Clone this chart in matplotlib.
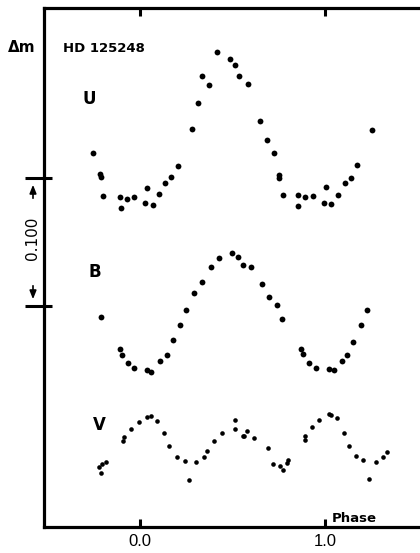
import matplotlib
matplotlib.use("Agg")
import matplotlib.pyplot as plt
import matplotlib.transforms as mtransforms

# ---- data (phase, delta m) ----
u_phase = [-0.249, -0.213, -0.209, -0.197, -0.107, -0.101, -0.069, -0.030, 0.039, 0.030,
           0.074, 0.105, 0.139, 0.168, 0.206, 0.283, 0.314, 0.335, 0.375, 0.419,
           0.488, 0.515, 0.538, 0.585, 0.650, 0.686, 0.724, 0.754, 0.754, 0.775,
           0.854, 0.856, 0.894, 0.937, 1.004, 0.995, 1.034, 1.068, 1.108, 1.139,
           1.174, 1.253]
u_dm = [-0.0193, -0.0031, -0.0010, 0.0138, 0.0146, 0.0237, 0.0166, 0.0151, 0.0076, 0.0198,
        0.0211, 0.0123, 0.0037, -0.0005, -0.0094, -0.0383, -0.0584, -0.0799, -0.0724, -0.0982,
        -0.0927, -0.0883, -0.0797, -0.0732, -0.0445, -0.0297, -0.0193, -0.0023, 0.0002, 0.0135,
        0.0130, 0.0219, 0.0151, 0.0143, 0.0070, 0.0198, 0.0205, 0.0130, 0.0041, 0.0000,
        -0.0099, -0.0377]

b_phase = [-0.209, -0.107, -0.093, -0.062, -0.028, 0.039, 0.060, 0.112, 0.147, 0.182,
           0.217, 0.252, 0.295, 0.339, 0.387, 0.430, 0.500, 0.531, 0.556, 0.599,
           0.662, 0.698, 0.740, 0.768, 0.869, 0.883, 0.914, 0.951, 1.020, 1.050,
           1.090, 1.120, 1.153, 1.192, 1.226]
b_dm = [0.1086, 0.1338, 0.1380, 0.1448, 0.1484, 0.1498, 0.1516, 0.1427, 0.1385, 0.1268,
        0.1148, 0.1034, 0.0901, 0.0810, 0.0698, 0.0627, 0.0586, 0.0621, 0.0677, 0.0698,
        0.0830, 0.0932, 0.0990, 0.1102, 0.1336, 0.1375, 0.1443, 0.1482, 0.1490, 0.1502,
        0.1432, 0.1385, 0.1284, 0.1146, 0.1034]

v_phase = [-0.218, -0.201, -0.182, -0.206, -0.087, -0.082, -0.046, -0.004, 0.040, 0.060,
           0.093, 0.130, 0.159, 0.202, 0.244, 0.265, 0.306, 0.348, 0.364, 0.403,
           0.445, 0.513, 0.513, 0.556, 0.563, 0.581, 0.619, 0.691, 0.718, 0.757,
           0.775, 0.794, 0.801, 0.891, 0.891, 0.928, 0.968, 1.020, 1.034, 1.065,
           1.101, 1.131, 1.169, 1.206, 1.237, 1.277, 1.313, 1.334]
v_dm = [0.2255, 0.2237, 0.2219, 0.2307, 0.2055, 0.2026, 0.1961, 0.1906, 0.1865, 0.1859,
        0.1896, 0.1990, 0.2096, 0.2182, 0.2211, 0.2362, 0.2221, 0.2182, 0.2135, 0.2055,
        0.1990, 0.1893, 0.1959, 0.2016, 0.2013, 0.1977, 0.2034, 0.2109, 0.2232, 0.2250,
        0.2284, 0.2229, 0.2205, 0.2013, 0.2047, 0.1943, 0.1893, 0.1846, 0.1849, 0.1877,
        0.1995, 0.2094, 0.2174, 0.2205, 0.2352, 0.2216, 0.2180, 0.2138]

x_ticks = [0.0, 1.0]
x_ticklabels = ["0.0", "1.0"]
y_ticks = [0.0, 0.100]

W, H = 420, 553
fig = plt.figure(figsize=(W / 100, H / 100), dpi=100)
ax = fig.add_axes([44 / W, 1 - 527 / H, 1 - 44 / W, (527 - 8) / H])

ax.plot(u_phase, u_dm, 'o', color='black', ms=4.2, mew=0)
ax.plot(b_phase, b_dm, 'o', color='black', ms=4.2, mew=0)
ax.plot(v_phase, v_dm, 'o', color='black', ms=3.3, mew=0)

ax.set_xlim(-0.515, 1.512)
ax.set_ylim(0.2727, -0.1328)

for s in ['left', 'top', 'bottom']:
    ax.spines[s].set_linewidth(2.3)
ax.spines['right'].set_visible(False)

ax.set_xticks(x_ticks)
ax.set_xticklabels(x_ticklabels, fontsize=12, family='Liberation Sans')
ax.tick_params(axis='x', direction='in', length=6, width=2.2, top=True, pad=5)
ax.set_yticks([])

# y "ticks" crossing the left spine
trans = mtransforms.blended_transform_factory(ax.transAxes, ax.transData)
for yt in y_ticks:
    ax.plot([-0.0505, 0.021], [yt, yt], color='black', lw=2.2, transform=trans,
            clip_on=False, solid_capstyle='butt')

def fx(px):
    return px / W

def fy(py):
    return 1 - py / H

fig.text(fx(8), fy(48), "Δm", fontsize=11, fontweight='bold', va='center', ha='left',
         family='DejaVu Sans')
fig.text(fx(63), fy(48), "HD 125248", fontsize=9.5, fontweight='bold', va='center',
         ha='left', family='DejaVu Sans')
fig.text(fx(89), fy(99), "U", fontsize=12, fontweight='bold', va='center', ha='center',
         family='DejaVu Sans')
fig.text(fx(95), fy(272), "B", fontsize=12, fontweight='bold', va='center', ha='center',
         family='DejaVu Sans')
fig.text(fx(99), fy(425), "V", fontsize=12, fontweight='bold', va='center', ha='center',
         family='DejaVu Sans')
fig.text(fx(33), fy(238), "0.100", fontsize=11, rotation=90, va='center', ha='center',
         family='DejaVu Sans')
fig.text(fx(332), fy(519), "Phase", fontsize=9.5, fontweight='bold', va='center',
         ha='left', family='DejaVu Sans')

arrow_kw = dict(arrowstyle='-|>,head_length=0.5,head_width=0.2', color='black', lw=1.2)
fig.add_artist(matplotlib.patches.FancyArrowPatch((fx(33), fy(201)), (fx(33), fy(182)),
               transform=fig.transFigure, mutation_scale=10, **arrow_kw))
fig.add_artist(matplotlib.patches.FancyArrowPatch((fx(33), fy(283)), (fx(33), fy(302)),
               transform=fig.transFigure, mutation_scale=10, **arrow_kw))

fig.savefig("out.png", dpi=100)
